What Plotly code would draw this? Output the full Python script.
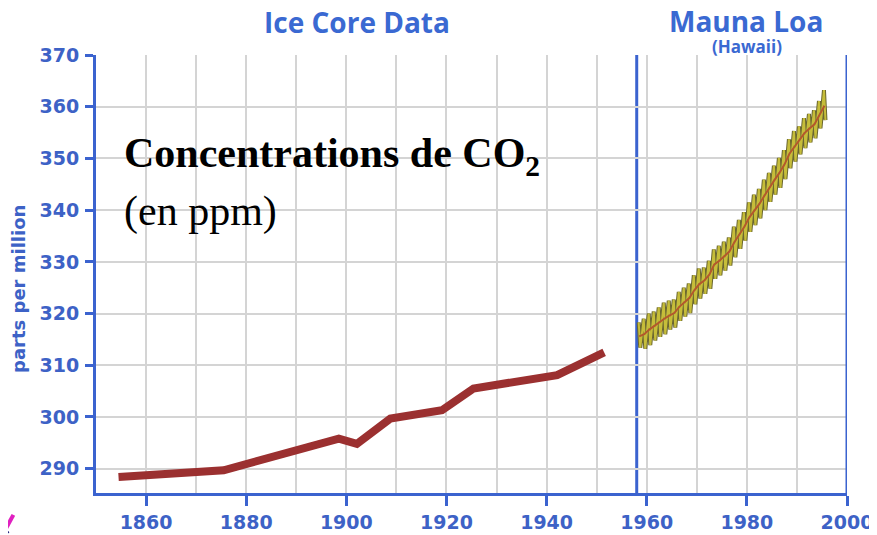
import plotly.graph_objects as go

# ---------------- data ----------------
ice_years = [1854.5, 1875.5, 1898.5, 1902.1, 1908.8, 1919.1, 1925.4, 1942.1, 1951.5]
ice_ppm = [288.4, 289.7, 295.8, 294.8, 299.7, 301.3, 305.5, 308.1, 312.5]

ml_years = list(range(1958, 1996))
ml_mean = [315.6, 316.0, 316.9, 317.6, 318.4, 319.0, 319.6, 320.1, 321.3, 322.1,
           323.0, 324.5, 325.7, 326.4, 327.5, 329.5, 330.2, 331.1, 332.0, 333.8,
           335.3, 336.8, 338.6, 339.9, 341.2, 342.8, 344.4, 345.8, 347.2, 348.8,
           350.9, 352.3, 353.5, 354.9, 355.8, 356.6, 358.4, 360.2]
ml_high = [318.3, 319.0, 320.0, 320.4, 321.2, 322.1, 322.5, 322.7, 324.2, 325.0,
           325.8, 327.4, 328.7, 328.9, 330.2, 332.4, 333.1, 333.9, 334.7, 336.8,
           338.1, 339.6, 341.5, 343.0, 344.1, 345.9, 347.2, 348.6, 350.1, 351.6,
           353.7, 355.3, 356.2, 357.8, 358.6, 359.3, 361.1, 363.2]
ml_low = [313.4, 313.2, 313.9, 314.8, 315.5, 316.0, 316.9, 317.3, 318.6, 319.4,
          320.1, 321.8, 322.9, 323.8, 324.8, 326.7, 327.4, 328.3, 329.3, 330.9,
          332.5, 334.1, 335.8, 337.1, 338.4, 340.0, 341.6, 343.0, 344.3, 346.0,
          348.1, 349.4, 350.8, 352.0, 353.1, 353.9, 355.8, 357.4]

x_ticks = [1860, 1880, 1900, 1920, 1940, 1960, 1980, 2000]
y_ticks = [290, 300, 310, 320, 330, 340, 350, 360, 370]
y_grid = [290, 300, 310, 320, 330, 340, 350, 360]
mauna_loa_start = 1958

# ---------------- styles ----------------
BLUE = "#3b63cf"
TXT_BLUE = "#3d62c6"
TITLE_BLUE = "#3a69d2"
GRID = "#d4d4d4"
X_RANGE = [1850, 2000]
Y_RANGE = [285.3, 370]

# zigzag (seasonal cycle: spring peak, autumn trough)
zig_x, zig_y = [], []
for yr, hi, lo in zip(ml_years, ml_high, ml_low):
    zig_x += [yr + 0.4, yr + 0.7]
    zig_y += [hi, lo]
mean_x = [yr + 0.5 for yr in ml_years]

fig = go.Figure()
fig.add_trace(go.Scatter(x=ice_years, y=ice_ppm, mode="lines",
                         line=dict(color="#9b3030", width=8), hoverinfo="skip"))
fig.add_trace(go.Scatter(x=zig_x, y=zig_y, mode="lines",
                         line=dict(color="#6a6630", width=4), hoverinfo="skip"))
fig.add_trace(go.Scatter(x=zig_x, y=zig_y, mode="lines",
                         line=dict(color="#c6bd3a", width=2), hoverinfo="skip"))
fig.add_trace(go.Scatter(x=mean_x, y=ml_mean, mode="lines",
                         line=dict(color="#b4582c", width=2), hoverinfo="skip"))

# vertical separators
fig.add_shape(type="line", xref="x", yref="y", x0=mauna_loa_start, x1=mauna_loa_start,
              y0=Y_RANGE[0], y1=Y_RANGE[1], line=dict(color=BLUE, width=3), layer="below")
fig.add_shape(type="line", xref="x", yref="y", x0=X_RANGE[1], x1=X_RANGE[1],
              y0=Y_RANGE[0], y1=Y_RANGE[1], line=dict(color=BLUE, width=3), layer="above")

# small pink mark bottom-left
fig.add_shape(type="line", xref="paper", yref="paper",
              x0=-0.124, x1=-0.11, y0=-0.094, y1=-0.05,
              line=dict(color="#e020c0", width=4))
fig.add_shape(type="line", xref="paper", yref="paper",
              x0=-0.126, x1=-0.117, y0=-0.07, y1=-0.092,
              line=dict(color="#202080", width=3))

# the page adds an 8px body margin, so the figure is 8px smaller and margins shifted
fig.update_layout(
    width=869, height=527,
    margin=dict(l=88, r=30, t=47, b=42, autoexpand=False),
    paper_bgcolor="white", plot_bgcolor="white",
    showlegend=False,
    xaxis=dict(range=X_RANGE, tickvals=x_ticks, ticks="outside", ticklen=10, tickwidth=3,
               tickcolor=BLUE, showline=True, linecolor=BLUE, linewidth=3, automargin=False,
               showgrid=True, gridcolor=GRID, gridwidth=2, zeroline=False,
               minor=dict(dtick=10, tick0=1850, showgrid=True, gridcolor=GRID, gridwidth=2, ticklen=0),
               tickfont=dict(family="DejaVu Sans", size=19, color=TXT_BLUE, weight="bold")),
    yaxis=dict(range=Y_RANGE, tickvals=y_ticks, ticks="outside", ticklen=8, tickwidth=3,
               tickcolor=BLUE, showline=True, linecolor=BLUE, linewidth=3, automargin=False,
               showgrid=False, zeroline=False, ticklabelstandoff=2,
               minor=dict(tickvals=y_grid, showgrid=True, gridcolor=GRID, gridwidth=2, ticklen=0),
               tickfont=dict(family="DejaVu Sans", size=19, color=TXT_BLUE, weight="bold")),
)

ann = [
    dict(text="Ice Core Data", x=0.3475, y=1.076, font=dict(family="Open Sans", size=28, color=TITLE_BLUE, weight="bold")),
    dict(text="Mauna Loa", x=0.865, y=1.078, font=dict(family="Open Sans", size=28, color=TITLE_BLUE, weight="bold")),
    dict(text="(Hawaii)", x=0.867, y=1.0205, font=dict(family="Open Sans", size=17, color=TITLE_BLUE, weight="bold")),
    dict(text="parts per million", x=-0.103, y=0.465, textangle=-90,
         font=dict(family="DejaVu Sans", size=18, color=TXT_BLUE, weight="bold")),
    dict(text="<b>Concentrations de CO<sub>2</sub></b>", x=0.0346, y=0.77, xanchor="left",
         font=dict(family="Liberation Serif", size=42, color="black")),
    dict(text="(en ppm)", x=0.0346, y=0.642, xanchor="left",
         font=dict(family="Liberation Serif", size=42, color="black")),
]
for a in ann:
    a.setdefault("xanchor", "center")
    fig.add_annotation(xref="paper", yref="paper", showarrow=False, yanchor="middle", **a)

fig.write_html("out.html")
